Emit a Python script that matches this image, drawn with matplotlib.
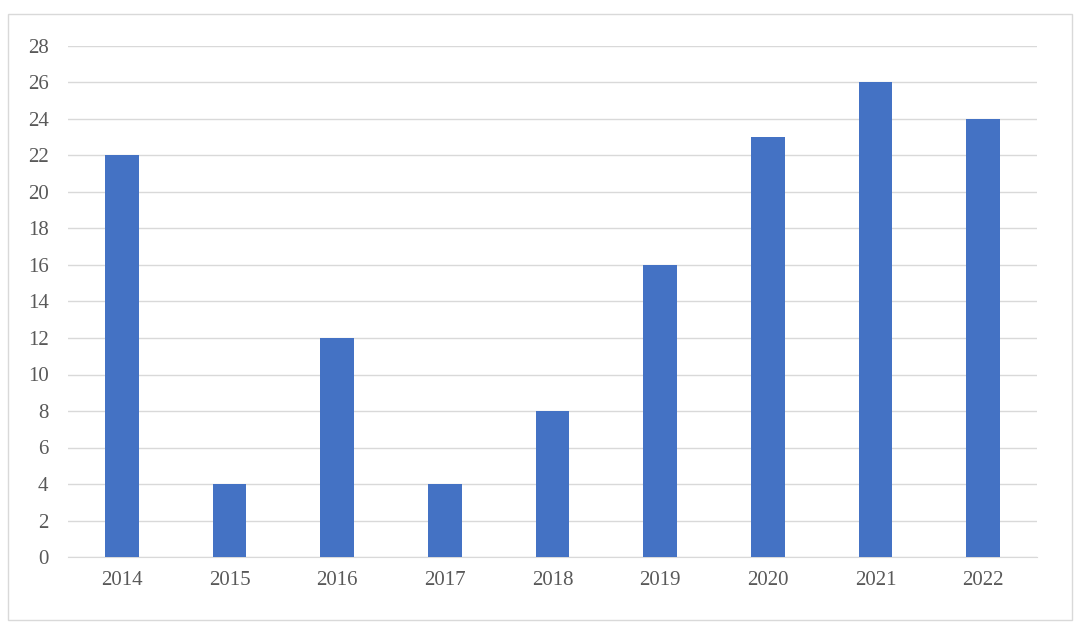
import matplotlib
matplotlib.use("Agg")
import matplotlib.pyplot as plt
from matplotlib.patches import Rectangle

years = ["2014","2015","2016","2017","2018","2019","2020","2021","2022"]
values = [22, 4, 12, 4, 8, 16, 23, 26, 24]
yticks = list(range(0, 29, 2))

plt.rcParams['font.family'] = ['Liberation Serif', 'DejaVu Serif']
fig = plt.figure(figsize=(10.8, 6.33), dpi=100)
fig.patches.append(Rectangle((8/1080, 1-620/633), 1064/1080, 606/633, transform=fig.transFigure,
                             fill=False, edgecolor='#d9d9d9', linewidth=1))
ax = fig.add_axes([68/1080, 1-557/633, 969/1080, 511/633])
x = range(len(years))
ax.bar(x, values, width=0.31, color='#4472C4', zorder=3)
ax.set_xlim(-0.5, len(years)-0.5)
ax.set_ylim(0, 28)
ax.set_yticks(yticks)
ax.set_xticks(list(x))
ax.set_xticklabels(years)
ax.grid(axis='y', color='#d9d9d9', linewidth=1, zorder=0)
for s in ['top', 'right', 'left']:
    ax.spines[s].set_visible(False)
ax.spines['bottom'].set_color('#d9d9d9')
ax.tick_params(length=0, labelsize=15, colors='#595959', pad=10)
ax.tick_params(axis='y', pad=14)
fig.savefig("out.png", dpi=100)
